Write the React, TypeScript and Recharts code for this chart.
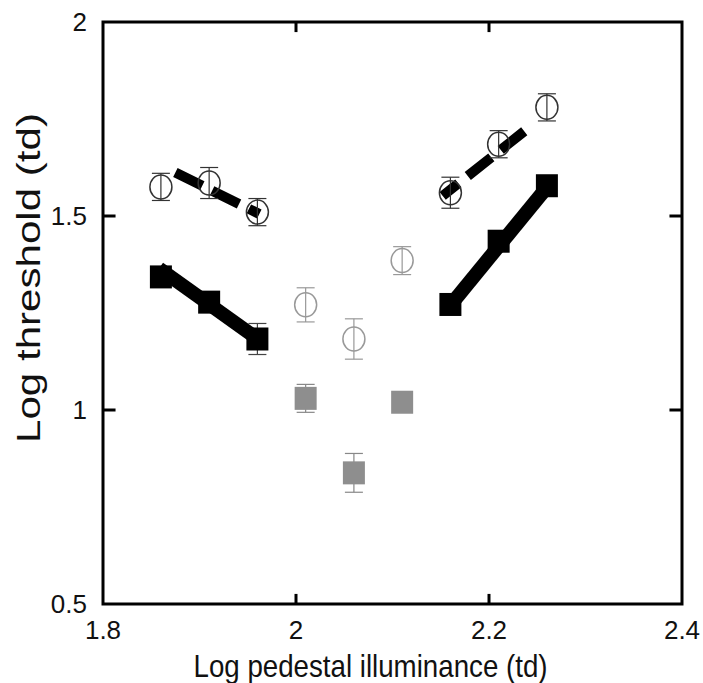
import {
    ComposedChart,
    Line,
    Scatter,
    XAxis,
    YAxis,
    ErrorBar,
    ReferenceArea,
    ReferenceLine,
    Label,
} from 'recharts';

const FONT = '"Liberation Sans", Arial, Helvetica, sans-serif';

// axis ticks
const xTicks = [1.8, 2, 2.2, 2.4];
const yTicks = [0.5, 1, 1.5, 2];
const innerXTicks = [2, 2.2];
const innerYTicks = [1, 1.5];

// open circles (dark), left and right groups
const openLeft = [
    { x: 1.86, y: 1.575, e: 0.035 },
    { x: 1.91, y: 1.585, e: 0.04 },
    { x: 1.96, y: 1.51, e: 0.035 },
];
const openRight = [
    { x: 2.16, y: 1.56, e: 0.04 },
    { x: 2.21, y: 1.685, e: 0.035 },
    { x: 2.26, y: 1.78, e: 0.035 },
];
// open circles (gray), middle
const openGray = [
    { x: 2.01, y: 1.271, e: 0.044 },
    { x: 2.06, y: 1.183, e: 0.052 },
    { x: 2.11, y: 1.385, e: 0.036 },
];
// filled squares (black)
const squareLeft = [
    { x: 1.86, y: 1.343, e: 0.02 },
    { x: 1.91, y: 1.278, e: 0.02 },
    { x: 1.96, y: 1.183, e: 0.04 },
];
const squareRight = [
    { x: 2.16, y: 1.272, e: 0.02 },
    { x: 2.21, y: 1.435, e: 0.02 },
    { x: 2.26, y: 1.578, e: 0.02 },
];
// filled squares (gray), middle
const squareGray = [
    { x: 2.01, y: 1.03, e: 0.036 },
    { x: 2.06, y: 0.838, e: 0.05 },
    { x: 2.11, y: 1.02, e: 0.01 },
];
// fitted lines
const fitDashLeft = [
    { x: 1.875, y: 1.612 },
    { x: 1.962, y: 1.505 },
];
const fitDashRight = [
    { x: 2.152, y: 1.552 },
    { x: 2.245, y: 1.735 },
];
const fitSolidLeft = [
    { x: 1.858, y: 1.365 },
    { x: 1.962, y: 1.18 },
];
const fitSolidRight = [
    { x: 2.16, y: 1.27 },
    { x: 2.262, y: 1.58 },
];

const square = (fill: string) => (p: any) => (
    <rect x={p.cx - 11} y={p.cy - 11.5} width={22} height={23} fill={fill} />
);
const circle = (stroke: string) => (p: any) => (
    <ellipse cx={p.cx} cy={p.cy} rx={11} ry={12} fill="none" stroke={stroke} strokeWidth={1.5} />
);

const XTitle = (props: any) => {
    const vb = props.viewBox;
    return (
        <text
            x={vb.x + vb.width / 2 - 22}
            y={vb.y + 73}
            textAnchor="middle"
            fontSize={32}
            fontFamily={FONT}
            fill="#111"
            textLength={354}
            lengthAdjust="spacingAndGlyphs"
        >
            Log pedestal illuminance (td)
        </text>
    );
};

const YTitle = (props: any) => {
    const vb = props.viewBox;
    const cx = vb.x + 40;
    const cy = vb.y + vb.height / 2 - 35;
    return (
        <text
            x={0}
            y={0}
            transform={`translate(${cx},${cy}) rotate(-90)`}
            textAnchor="middle"
            fontSize={34}
            fontFamily={FONT}
            fill="#111"
            textLength={330}
            lengthAdjust="spacingAndGlyphs"
        >
            Log threshold (td)
        </text>
    );
};

export default function App() {
    const tickLenX = 0.026; // in y units, for x-axis ticks
    const tickLenY = 0.013; // in x units, for y-axis ticks
    return (
        <div style={{ position: 'absolute', left: 0, top: 0, background: '#fff' }}>
            <ComposedChart
                width={703}
                height={683}
                margin={{ top: 22, right: 21, left: 0, bottom: 0 }}
            >
                <XAxis
                    type="number"
                    dataKey="x"
                    domain={[1.8, 2.4]}
                    ticks={xTicks}
                    axisLine={false}
                    tickLine={false}
                    tickSize={0}
                    tickMargin={17}
                    height={79}
                    tick={{ fontSize: 26, fill: '#111', fontFamily: FONT }}
                    allowDataOverflow
                >
                    <Label content={XTitle} />
                </XAxis>
                <YAxis
                    type="number"
                    dataKey="y"
                    domain={[0.5, 2]}
                    ticks={yTicks}
                    axisLine={false}
                    tickLine={false}
                    tickSize={0}
                    tickMargin={16}
                    width={103}
                    tick={{ fontSize: 26, fill: '#111', fontFamily: FONT }}
                    allowDataOverflow
                >
                    <Label content={YTitle} />
                </YAxis>

                <ReferenceArea x1={1.8} x2={2.4} y1={0.5} y2={2} fill="none" stroke="#000" strokeWidth={3} />
                {innerXTicks.map((t) => (
                    <ReferenceLine key={'xb' + t} segment={[{ x: t, y: 0.5 }, { x: t, y: 0.5 + tickLenX }]} stroke="#000" strokeWidth={3} />
                ))}
                {innerXTicks.map((t) => (
                    <ReferenceLine key={'xt' + t} segment={[{ x: t, y: 2 }, { x: t, y: 2 - tickLenX }]} stroke="#000" strokeWidth={3} />
                ))}
                {innerYTicks.map((t) => (
                    <ReferenceLine key={'yl' + t} segment={[{ x: 1.8, y: t }, { x: 1.8 + tickLenY, y: t }]} stroke="#000" strokeWidth={3} />
                ))}
                {innerYTicks.map((t) => (
                    <ReferenceLine key={'yr' + t} segment={[{ x: 2.4, y: t }, { x: 2.4 - tickLenY, y: t }]} stroke="#000" strokeWidth={3} />
                ))}

                <Line data={fitSolidLeft} dataKey="y" stroke="#000" strokeWidth={14} dot={false} activeDot={false} isAnimationActive={false} />
                <Line data={fitSolidRight} dataKey="y" stroke="#000" strokeWidth={14} dot={false} activeDot={false} isAnimationActive={false} />
                <Line data={fitDashLeft} dataKey="y" stroke="#000" strokeWidth={10} strokeDasharray="30 11" dot={false} activeDot={false} isAnimationActive={false} />
                <Line data={fitDashRight} dataKey="y" stroke="#000" strokeWidth={10} strokeDasharray="30 12" strokeDashoffset={10} dot={false} activeDot={false} isAnimationActive={false} />

                <Scatter data={squareGray} shape={square('#8e8e8e')} isAnimationActive={false}>
                    <ErrorBar dataKey="e" direction="y" width={9} stroke="#888" strokeWidth={1.2} />
                </Scatter>
                <Scatter data={squareLeft} shape={square('#000')} isAnimationActive={false}>
                    <ErrorBar dataKey="e" direction="y" width={9} stroke="#444" strokeWidth={1.2} />
                </Scatter>
                <Scatter data={squareRight} shape={square('#000')} isAnimationActive={false}>
                    <ErrorBar dataKey="e" direction="y" width={9} stroke="#444" strokeWidth={1.2} />
                </Scatter>
                <Scatter data={openGray} shape={circle('#999')} isAnimationActive={false}>
                    <ErrorBar dataKey="e" direction="y" width={9} stroke="#999" strokeWidth={1.2} />
                </Scatter>
                <Scatter data={openLeft} shape={circle('#333')} isAnimationActive={false}>
                    <ErrorBar dataKey="e" direction="y" width={9} stroke="#333" strokeWidth={1.2} />
                </Scatter>
                <Scatter data={openRight} shape={circle('#333')} isAnimationActive={false}>
                    <ErrorBar dataKey="e" direction="y" width={9} stroke="#333" strokeWidth={1.2} />
                </Scatter>
            </ComposedChart>
        </div>
    );
}
